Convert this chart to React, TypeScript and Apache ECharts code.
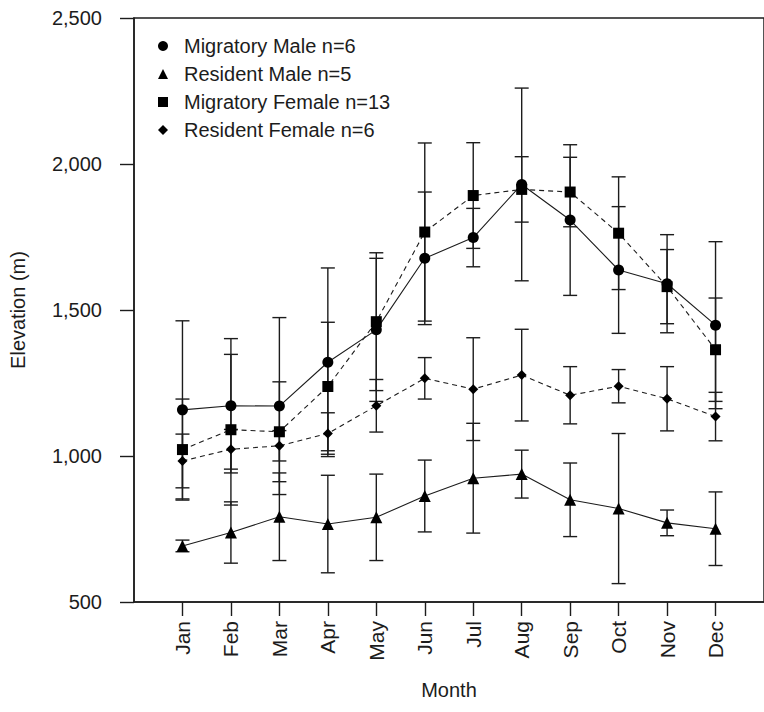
import React, { useEffect, useRef } from "react";
import * as echarts from "echarts";

const months = ["Jan", "Feb", "Mar", "Apr", "May", "Jun", "Jul", "Aug", "Sep", "Oct", "Nov", "Dec"];
const yTicks = [500, 1000, 1500, 2000, 2500];

const migratoryMale = [1158, 1172, 1171, 1321, 1432, 1677, 1748, 1930, 1808, 1637, 1590, 1448];
const migratoryMaleErr = [305, 230, 303, 323, 245, 227, 100, 330, 258, 217, 168, 286];

const residentMale = [692, 738, 792, 767, 790, 863, 924, 938, 850, 820, 771, 751];
const residentMaleErr = [20, 105, 150, 167, 148, 123, 188, 82, 126, 257, 44, 126];

const migratoryFemale = [1022, 1090, 1083, 1238, 1460, 1767, 1892, 1913, 1904, 1763, 1580, 1364];
const migratoryFemaleErr = [173, 258, 171, 220, 236, 305, 181, 112, 119, 193, 127, 177];

const residentFemale = [983, 1023, 1035, 1077, 1172, 1266, 1229, 1277, 1208, 1239, 1196, 1135];
const residentFemaleErr = [92, 68, 52, 71, 90, 71, 176, 157, 98, 57, 110, 83];

const groups = [
  { name: "Migratory Male n=6", mean: migratoryMale, err: migratoryMaleErr, symbol: "circle", size: 11, dashed: false },
  { name: "Resident Male n=5", mean: residentMale, err: residentMaleErr, symbol: "triangle", size: 12, dashed: false },
  { name: "Migratory Female n=13", mean: migratoryFemale, err: migratoryFemaleErr, symbol: "rect", size: 11, dashed: true },
  { name: "Resident Female n=6", mean: residentFemale, err: residentFemaleErr, symbol: "diamond", size: 10, dashed: true },
];

const FONT = "Liberation Sans, Arial, Helvetica, sans-serif";
const INK = "#1c1c1c";

export default function App() {
  const ref = useRef<HTMLDivElement>(null);

  useEffect(() => {
    if (!ref.current) return;
    const chart = echarts.init(ref.current, undefined, { renderer: "svg" });

    const errorSeries = groups.map((g) => ({
      type: "custom",
      z: 1,
      silent: true,
      encode: { x: 0, y: [1, 2] },
      data: g.mean.map((m, i) => [i + 1, m - g.err[i], m + g.err[i]]),
      renderItem: (params: any, api: any) => {
        const x = api.value(0);
        const top = api.coord([x, api.value(2)]);
        const bot = api.coord([x, api.value(1)]);
        const hw = 7;
        const style = { stroke: INK, lineWidth: 1.4, fill: null };
        return {
          type: "group",
          children: [
            { type: "line", shape: { x1: top[0], y1: top[1], x2: bot[0], y2: bot[1] }, style },
            { type: "line", shape: { x1: top[0] - hw, y1: top[1], x2: top[0] + hw, y2: top[1] }, style },
            { type: "line", shape: { x1: bot[0] - hw, y1: bot[1], x2: bot[0] + hw, y2: bot[1] }, style },
          ],
        };
      },
    }));

    const lineSeries = groups.map((g) => ({
      type: "line",
      name: g.name,
      z: 3,
      data: g.mean.map((m, i) => [i + 1, m]),
      symbol: g.symbol,
      symbolSize: g.size,
      itemStyle: { color: "#000" },
      lineStyle: { color: INK, width: 1.1, type: g.dashed ? [5, 4] : "solid" },
      showSymbol: true,
    }));

    chart.setOption({
      animation: false,
      backgroundColor: "#fff",
      textStyle: { fontFamily: FONT },
      grid: {
        left: 134,
        top: 18,
        bottom: 110,
        right: -7,
        show: true,
        borderColor: INK,
        borderWidth: 1.5,
        backgroundColor: "transparent",
      },
      legend: {
        orient: "vertical",
        left: 158,
        top: 36,
        padding: 0,
        itemGap: 8,
        itemWidth: 10,
        itemHeight: 10,
        selectedMode: false,
        textStyle: { fontFamily: FONT, fontSize: 20, color: INK, padding: [0, 0, 0, 11] },
        data: groups.map((g) => ({ name: g.name, icon: g.symbol, itemStyle: { color: "#000" } })),
      },
      xAxis: {
        type: "value",
        min: 0,
        max: 13,
        interval: 1,
        name: "Month",
        nameLocation: "middle",
        nameGap: 78,
        nameTextStyle: { fontFamily: FONT, fontSize: 20, color: INK },
        splitLine: { show: false },
        axisLine: { show: true, lineStyle: { color: INK, width: 1.5 } },
        axisTick: {
          show: true,
          length: 14,
          customValues: months.map((_, i) => i + 1),
          lineStyle: { color: INK, width: 1.4 },
        },
        axisLabel: {
          rotate: 90,
          margin: 19,
          fontFamily: FONT,
          fontSize: 21,
          color: INK,
          customValues: months.map((_, i) => i + 1),
          formatter: (v: number) => months[Math.round(v) - 1] ?? "",
        },
      },
      yAxis: {
        type: "value",
        min: 500,
        max: 2500,
        interval: 500,
        name: "Elevation (m)",
        nameLocation: "middle",
        nameGap: 106,
        nameTextStyle: { fontFamily: FONT, fontSize: 20, color: INK },
        splitLine: { show: false },
        axisLine: { show: true, lineStyle: { color: INK, width: 1.5 } },
        axisTick: { show: true, length: 14, lineStyle: { color: INK, width: 1.4 } },
        axisLabel: {
          margin: 32,
          fontFamily: FONT,
          fontSize: 20,
          color: INK,
          customValues: yTicks,
          formatter: (v: number) => v.toLocaleString("en-US"),
        },
      },
      series: [...errorSeries, ...lineSeries],
    });

    return () => chart.dispose();
  }, []);

  return (
    <div
      ref={ref}
      style={{ position: "fixed", left: 0, top: 0, width: 764, height: 712, background: "#fff" }}
    />
  );
}
